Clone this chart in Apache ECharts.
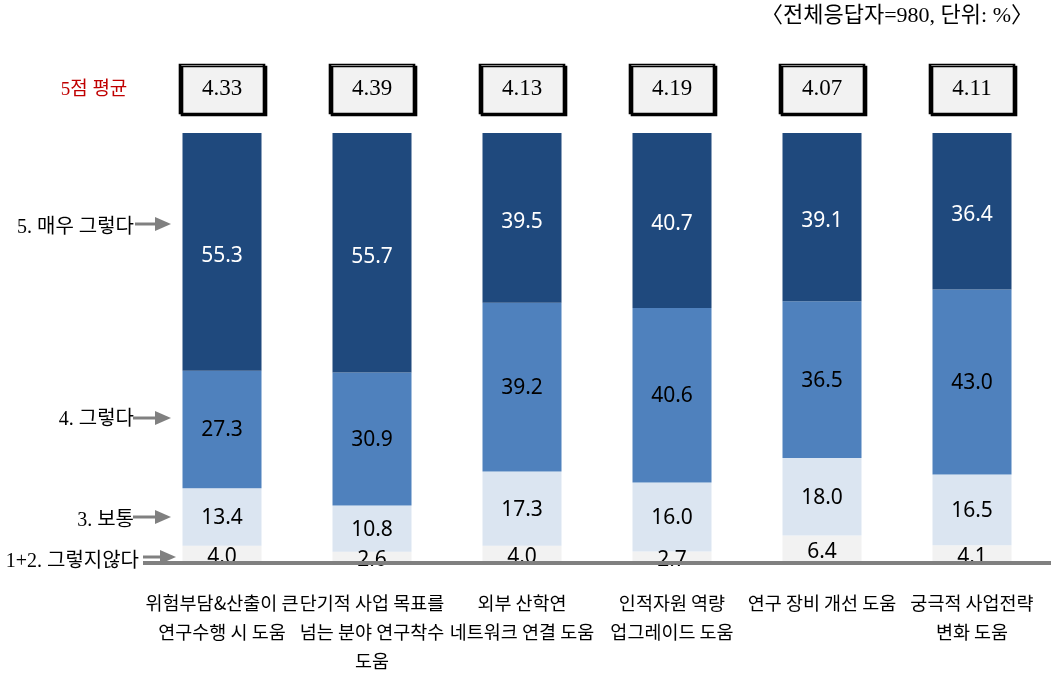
<!DOCTYPE html>
<html>
<head>
<meta charset="utf-8">
<script src="https://cdn.jsdelivr.net/npm/echarts@6/dist/echarts.min.js"></script>
<style>
html,body{margin:0;padding:0;background:#fff;}
#chart{width:1051px;height:677px;}
</style>
</head>
<body>
<div id="chart"></div>
<script>
const categories = [
  '위험부담&산출이 큰\n연구수행 시 도움',
  '단기적 사업 목표를\n넘는 분야 연구착수\n도움',
  '외부 산학연\n네트워크 연결 도움',
  '인적자원 역량\n업그레이드 도움',
  '연구 장비 개선 도움',
  '궁극적 사업전략\n변화 도움'
];
const seriesNames = ['1+2. 그렇지않다', '3. 보통', '4. 그렇다', '5. 매우 그렇다'];
const disagree = [4.0, 2.6, 4.0, 2.7, 6.4, 4.1];
const neutral = [13.4, 10.8, 17.3, 16.0, 18.0, 16.5];
const agree = [27.3, 30.9, 39.2, 40.6, 36.5, 43.0];
const stronglyAgree = [55.3, 55.7, 39.5, 40.7, 39.1, 36.4];
const averages = [4.33, 4.39, 4.13, 4.19, 4.07, 4.11];
const titleText = '〈전체응답자=980, 단위: %〉';
const avgLabel = '5점 평균';

const colors = ['#f2f2f2', '#dbe5f1', '#4f81bd', '#1f497d'];
const labelColors = ['#000', '#000', '#000', '#fff'];
const values = [disagree, neutral, agree, stronglyAgree];

const chart = echarts.init(document.getElementById('chart'));

const barSeries = values.map((arr, k) => ({
  name: seriesNames[k],
  type: 'bar',
  stack: 'total',
  xAxisIndex: 0,
  yAxisIndex: 0,
  barWidth: 79,
  data: arr,
  itemStyle: { color: colors[k] },
  label: {
    show: true,
    position: 'inside',
    offset: k === 0 ? [0, 3] : (k === 3 ? [0, 4] : [0, 1]),
    formatter: p => p.value.toFixed(1),
    fontSize: 21,
    fontFamily: 'Noto Sans',
    color: labelColors[k]
  },
  emphasis: { disabled: true },
  z: 2
}));

const serifFont = '"Liberation Serif", "DejaVu Serif", "Noto Sans CJK KR", serif';

function arrow(x1, x2, y) {
  return [
    { type: 'line', shape: { x1: x1, y1: y, x2: x2 - 12, y2: y }, style: { stroke: '#808080', lineWidth: 3 } },
    { type: 'polygon', shape: { points: [[x2 - 16, y - 7], [x2, y], [x2 - 16, y + 7]] }, style: { fill: '#808080' } }
  ];
}

function leftLabel(text, x, y) {
  return { type: 'text', x: x, y: y, style: { text: text, font: '20px ' + serifFont, fill: '#000', align: 'right', verticalAlign: 'middle' } };
}

const option = {
  backgroundColor: '#fff',
  animation: false,
  grid: [
    { left: 147, right: 4, top: 133, bottom: 114 },
    { left: 147, right: 4, top: 60, height: 58 }
  ],
  xAxis: [
    {
      type: 'category',
      gridIndex: 0,
      data: categories,
      axisLine: { show: true, lineStyle: { color: '#808080', width: 4 } },
      axisTick: { show: false },
      axisLabel: {
        interval: 0,
        margin: 25,
        fontSize: 18.5,
        lineHeight: 29,
        color: '#000',
        fontFamily: '"Noto Sans CJK KR", sans-serif'
      },
      z: 5
    },
    {
      type: 'category',
      gridIndex: 1,
      data: categories,
      show: false
    }
  ],
  yAxis: [
    { type: 'value', gridIndex: 0, min: 0, max: 100, show: false },
    { type: 'value', gridIndex: 1, min: 0, max: 1, show: false }
  ],
  series: barSeries.concat([{
    type: 'scatter',
    xAxisIndex: 1,
    yAxisIndex: 1,
    symbol: 'rect',
    symbolSize: [84, 49],
    data: averages.map((v, i) => [i, 0.5, v]),
    itemStyle: {
      color: '#f2f2f2',
      borderColor: '#000',
      borderWidth: 2,
      shadowColor: '#000',
      shadowBlur: 0,
      shadowOffsetX: 2,
      shadowOffsetY: 2,
      opacity: 1
    },
    label: {
      show: true,
      position: 'inside',
      formatter: p => p.value[2].toFixed(2),
      fontSize: 23,
      fontFamily: serifFont,
      color: '#000'
    },
    emphasis: { disabled: true }
  }]),
  graphic: [
    { type: 'text', right: 18, top: 5, style: { text: titleText, font: '22px ' + serifFont, fill: '#000' } },
    { type: 'text', x: 94, y: 90, style: { text: avgLabel, font: '19px ' + serifFont, fill: '#c00000', align: 'center', verticalAlign: 'middle' } },
    leftLabel('5. 매우 그렇다', 134, 228),
    leftLabel('4. 그렇다', 134, 420),
    leftLabel('3. 보통', 134, 521),
    leftLabel('1+2. 그렇지않다', 139, 562),
    ...arrow(135, 171, 224),
    ...arrow(133, 171, 418),
    ...arrow(133, 171, 517),
    ...arrow(143, 176, 557),
    { type: 'line', shape: { x1: 143, y1: 563, x2: 1051, y2: 563 }, style: { stroke: '#808080', lineWidth: 4 }, z: 10 }
  ]
};

chart.setOption(option);
</script>
</body>
</html>
